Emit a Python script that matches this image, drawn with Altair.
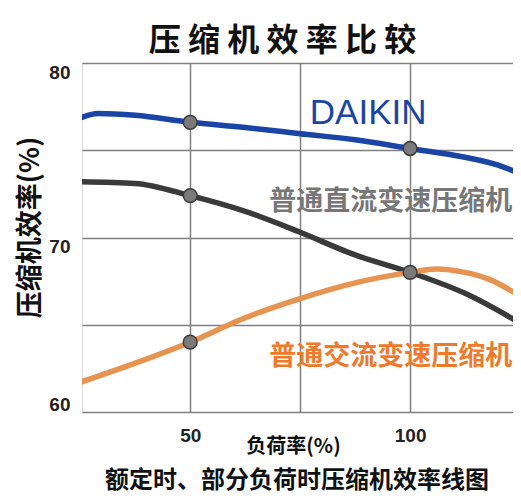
import altair as alt
import pandas as pd

# ---- data ----
load_daikin = [25, 29, 37.5, 50, 62.5, 75, 87.5, 100, 112.5, 120, 125]
eff_daikin = [76.85, 77.1, 77.0, 76.6, 76.3, 75.95, 75.6, 75.1, 74.6, 74.15, 73.65]

load_dc = [25, 37.5, 50, 62.5, 75, 87.5, 100, 112.5, 125]
eff_dc = [73.2, 73.1, 72.4, 71.5, 70.3, 69.0, 68.0, 66.8, 65.1]

load_ac = [25, 37.5, 50, 62.5, 75, 87.5, 100, 106, 112.5, 118, 125]
eff_ac = [61.7, 62.8, 64.0, 65.4, 66.5, 67.4, 68.0, 68.2, 68.0, 67.6, 66.65]

marker_load = [50, 100, 50, 100, 50]
marker_eff = [76.6, 75.1, 72.4, 68.0, 64.0]

series_names = ["DAIKIN", "普通直流变速压缩机", "普通交流变速压缩机"]
series_colors = ["#1a44a6", "#3a3a3a", "#e8934f"]
label_colors = ["#1a44a6", "#777777", "#f07a2a"]
label_load = [77.2, 68.0, 68.0]
label_eff = [77.15, 72.06, 63.18]
label_size = [35, 27, 27]

y_ticks = [60, 65, 70, 75, 80]
x_ticks = [50, 75, 100]

title_text = "压 缩 机 效 率 比 较"
x_title = "负荷率(%)"
y_title = "压缩机效率(%)"
footnote = "额定时、部分负荷时压缩机效率线图"

FONT = "Noto Sans CJK SC"

rows = []
for s, (xs, ys) in zip(series_names, [(load_daikin, eff_daikin), (load_dc, eff_dc), (load_ac, eff_ac)]):
    for i, (a, b) in enumerate(zip(xs, ys)):
        rows.append({"series": s, "load": a, "eff": b, "order": i})
lines_df = pd.DataFrame(rows)
markers_df = pd.DataFrame({"load": marker_load, "eff": marker_eff})
labels_df = pd.DataFrame({"series": series_names, "load": label_load, "eff": label_eff,
                          "color": label_colors, "size": label_size})

xscale = alt.Scale(domain=[25.4, 123.4], nice=False, zero=False)
yscale = alt.Scale(domain=[60, 80], nice=False, zero=False)

xaxis = alt.Axis(values=x_ticks, grid=True, ticks=False, domain=False,
                 labelExpr="(datum.value == 50 || datum.value == 100) ? datum.label : ''",
                 labelFont="Liberation Sans", labelFontSize=19, labelFontWeight="bold",
                 labelColor="#222", labelPadding=14,
                 title=x_title, titleFont=FONT, titleFontSize=20, titleFontWeight="bold",
                 titleColor="#111", titleX=211, titleY=34, titleBaseline="middle",
                 gridColor="#808080", gridWidth=1.5)
yaxis = alt.Axis(values=y_ticks, grid=True, ticks=False, domain=False,
                 labelExpr="(datum.value % 10 == 0) ? datum.label : ''",
                 labelFont="Liberation Sans", labelFontSize=19, labelFontWeight="bold",
                 labelColor="#222", labelPadding=12,
                 labelOffset={"condition": {"test": "datum.value == 60", "value": -8}, "value": 9},
                 title=y_title, titleFont=FONT, titleFontSize=27, titleFontWeight="bold",
                 titleColor="#111", titleX=-52, titleY=164, titleBaseline="middle",
                 gridColor="#808080", gridWidth=1.5)

base = alt.Chart(lines_df)

lines = base.mark_line(strokeWidth=5.5, interpolate="monotone", clip=True).encode(
    x=alt.X("load:Q", scale=xscale, axis=xaxis),
    y=alt.Y("eff:Q", scale=yscale, axis=yaxis),
    color=alt.Color("series:N", scale=alt.Scale(domain=series_names, range=series_colors), legend=None),
    order="order:Q",
)

markers = alt.Chart(markers_df).mark_point(filled=True, size=190, shape="circle",
                                           fill="#7a7a7a", stroke="#3c3c3c",
                                           strokeWidth=1.5, opacity=1).encode(
    x=alt.X("load:Q", scale=xscale),
    y=alt.Y("eff:Q", scale=yscale),
)

label_enc = dict(
    x=alt.X("load:Q", scale=xscale),
    y=alt.Y("eff:Q", scale=yscale),
    text="series:N",
    color=alt.Color("color:N", scale=None),
    size=alt.Size("size:Q", scale=None),
)

label_latin = alt.Chart(labels_df).transform_filter(alt.datum.series == "DAIKIN").mark_text(
    align="left", baseline="middle", font="Liberation Sans", fontWeight="normal"
).encode(**label_enc)

label_cjk = alt.Chart(labels_df).transform_filter(alt.datum.series != "DAIKIN").mark_text(
    align="left", baseline="middle", font=FONT, fontWeight="bold"
).encode(**label_enc)

foot = alt.Chart(pd.DataFrame({"t": [footnote]})).mark_text(
    font=FONT, fontSize=24, fontWeight="bold", color="#111", align="center", baseline="middle"
).encode(x=alt.value(215), y=alt.value(418), text="t:N")

chart = alt.layer(lines, markers, label_latin, label_cjk, foot).properties(
    width=431, height=349,
    title=alt.TitleParams(title_text, font=FONT, fontSize=32, fontWeight="bold", color="#111",
                          anchor="middle", dx=-15, offset=5),
    autosize=alt.AutoSizeParams(type="none"),
    padding={"left": 74, "top": 55, "right": 0, "bottom": 83},
).configure_view(stroke="#888", strokeWidth=1.5).configure(background="white")

chart.save("out.html", embed_options={"renderer": "svg", "actions": False})
